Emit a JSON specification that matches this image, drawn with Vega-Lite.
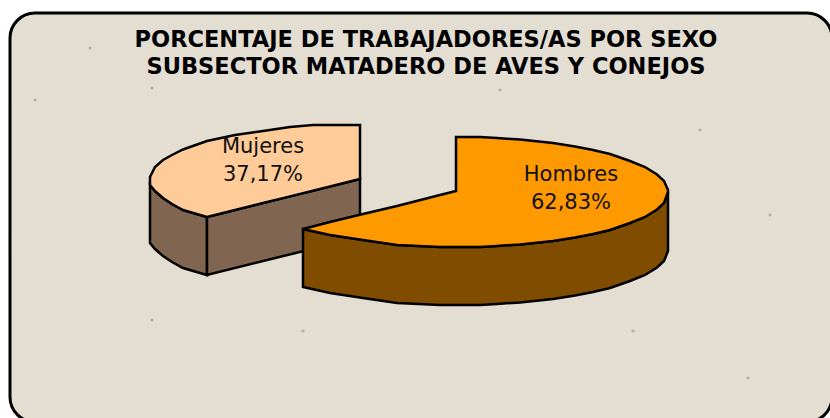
{
"$schema":"https://vega.github.io/schema/vega-lite/v6.json",
"width":830,"height":418,"autosize":"none","padding":0,"background":"white",
"title":{"text":["PORCENTAJE DE TRABAJADORES/AS POR SEXO","SUBSECTOR MATADERO DE AVES Y CONEJOS"],"font":"DejaVu Sans","fontSize":22.5,"fontWeight":"bold","color":"black","lineHeight":27,"anchor":"middle","frame":"group","dx":11,"dy":82},
"config":{"view":{"stroke":null}},
"data":{"values":[
{"part":"frame","x":10,"x2":832,"y":13,"y2":422},
{"part":"speck","x":90,"y":48},{"part":"speck","x":152,"y":88},{"part":"speck","x":35,"y":100},{"part":"speck","x":303,"y":331},{"part":"speck","x":633,"y":331},{"part":"speck","x":748,"y":378},{"part":"speck","x":152,"y":320},{"part":"speck","x":500,"y":90},{"part":"speck","x":700,"y":130},{"part":"speck","x":770,"y":215},

{"part":"mside1","x":150,"y":185,"y2":243},
{"part":"mside1","x":155,"y":191,"y2":249},
{"part":"mside1","x":163,"y":198,"y2":256},
{"part":"mside1","x":172,"y":204,"y2":262},
{"part":"mside1","x":183,"y":210,"y2":268},
{"part":"mside1","x":207,"y":217,"y2":275},
{"part":"mside2","x":207,"y":217,"y2":275},
{"part":"mside2","x":360,"y":179,"y2":237},
{"part":"mtop","x":150,"y":177,"y2":185},
{"part":"mtop","x":155,"y":167,"y2":191},
{"part":"mtop","x":163,"y":160,"y2":198},
{"part":"mtop","x":172,"y":155,"y2":204},
{"part":"mtop","x":183,"y":149.5,"y2":210},
{"part":"mtop","x":207,"y":141,"y2":217},
{"part":"mtop","x":235,"y":135,"y2":210},
{"part":"mtop","x":263,"y":131,"y2":203},
{"part":"mtop","x":290,"y":127,"y2":196.4},
{"part":"mtop","x":313,"y":125,"y2":190.7},
{"part":"mtop","x":360,"y":125,"y2":179},

{"part":"hside","x":303,"y":229,"y2":287},
{"part":"hside","x":330,"y":235,"y2":293},
{"part":"hside","x":363,"y":240,"y2":298},
{"part":"hside","x":397,"y":245,"y2":303},
{"part":"hside","x":440,"y":247,"y2":305},
{"part":"hside","x":480,"y":247,"y2":305},
{"part":"hside","x":497,"y":246,"y2":304},
{"part":"hside","x":520,"y":244.4,"y2":302.4},
{"part":"hside","x":553,"y":241,"y2":299},
{"part":"hside","x":575,"y":237.5,"y2":295.5},
{"part":"hside","x":593,"y":234,"y2":292},
{"part":"hside","x":610,"y":230,"y2":288},
{"part":"hside","x":630,"y":223,"y2":281},
{"part":"hside","x":645,"y":217,"y2":275},
{"part":"hside","x":657,"y":209.5,"y2":267.5},
{"part":"hside","x":664,"y":203,"y2":261},
{"part":"hside","x":668,"y":192,"y2":251},
{"part":"htop","x":303,"y":229,"y2":229},
{"part":"htop","x":330,"y":222,"y2":235},
{"part":"htop","x":363,"y":214,"y2":240},
{"part":"htop","x":397,"y":206,"y2":245},
{"part":"htop","x":440,"y":195,"y2":247},
{"part":"htop","x":456,"y":191,"y2":247},
{"part":"htop","x":456.01,"y":137,"y2":247},
{"part":"htop","x":480,"y":137,"y2":247},
{"part":"htop","x":497,"y":138,"y2":246},
{"part":"htop","x":520,"y":139.6,"y2":244.4},
{"part":"htop","x":553,"y":143,"y2":241},
{"part":"htop","x":575,"y":146.5,"y2":237.5},
{"part":"htop","x":593,"y":150,"y2":234},
{"part":"htop","x":610,"y":154,"y2":230},
{"part":"htop","x":630,"y":161,"y2":223},
{"part":"htop","x":645,"y":167,"y2":217},
{"part":"htop","x":657,"y":174.5,"y2":209.5},
{"part":"htop","x":664,"y":181,"y2":203},
{"part":"htop","x":668,"y":190,"y2":192},

{"part":"label","x":263,"y":146,"t":"Mujeres"},
{"part":"label","x":263,"y":174,"t":"37,17%"},
{"part":"label","x":571,"y":174,"t":"Hombres"},
{"part":"label","x":571,"y":202,"t":"62,83%"}
]},
"encoding":{
"x":{"field":"x","type":"quantitative","scale":{"domain":[0,830],"nice":false,"zero":false},"axis":null},
"y":{"field":"y","type":"quantitative","scale":{"domain":[418,0],"nice":false,"zero":false},"axis":null}
},
"layer":[
{"transform":[{"filter":"datum.part==='frame'"}],"mark":{"type":"rect","fill":"#e3ddd2","stroke":"black","strokeWidth":3,"cornerRadius":25},"encoding":{"x2":{"field":"x2"},"y2":{"field":"y2"}}},
{"transform":[{"filter":"datum.part==='speck'"}],"mark":{"type":"point","filled":true,"color":"#a8a297","size":10,"opacity":0.8}},
{"transform":[{"filter":"datum.part==='mside1'"}],"mark":{"type":"area","fill":"#806650","stroke":"black","strokeWidth":2.5,"opacity":1},"encoding":{"y2":{"field":"y2"}}},
{"transform":[{"filter":"datum.part==='mside2'"}],"mark":{"type":"area","fill":"#806650","stroke":"black","strokeWidth":2.5,"opacity":1},"encoding":{"y2":{"field":"y2"}}},
{"transform":[{"filter":"datum.part==='mtop'"}],"mark":{"type":"area","fill":"#ffcc99","stroke":"black","strokeWidth":2.5,"opacity":1},"encoding":{"y2":{"field":"y2"}}},
{"transform":[{"filter":"datum.part==='hside'"}],"mark":{"type":"area","fill":"#804d00","stroke":"black","strokeWidth":2.5,"opacity":1},"encoding":{"y2":{"field":"y2"}}},
{"transform":[{"filter":"datum.part==='htop'"}],"mark":{"type":"area","fill":"#ff9900","stroke":"black","strokeWidth":2.5,"opacity":1},"encoding":{"y2":{"field":"y2"}}},
{"transform":[{"filter":"datum.part==='label'"}],"mark":{"type":"text","font":"DejaVu Sans","fontSize":21,"color":"#111111","align":"center","baseline":"alphabetic","dy":7},"encoding":{"text":{"field":"t"}}}
]
}
